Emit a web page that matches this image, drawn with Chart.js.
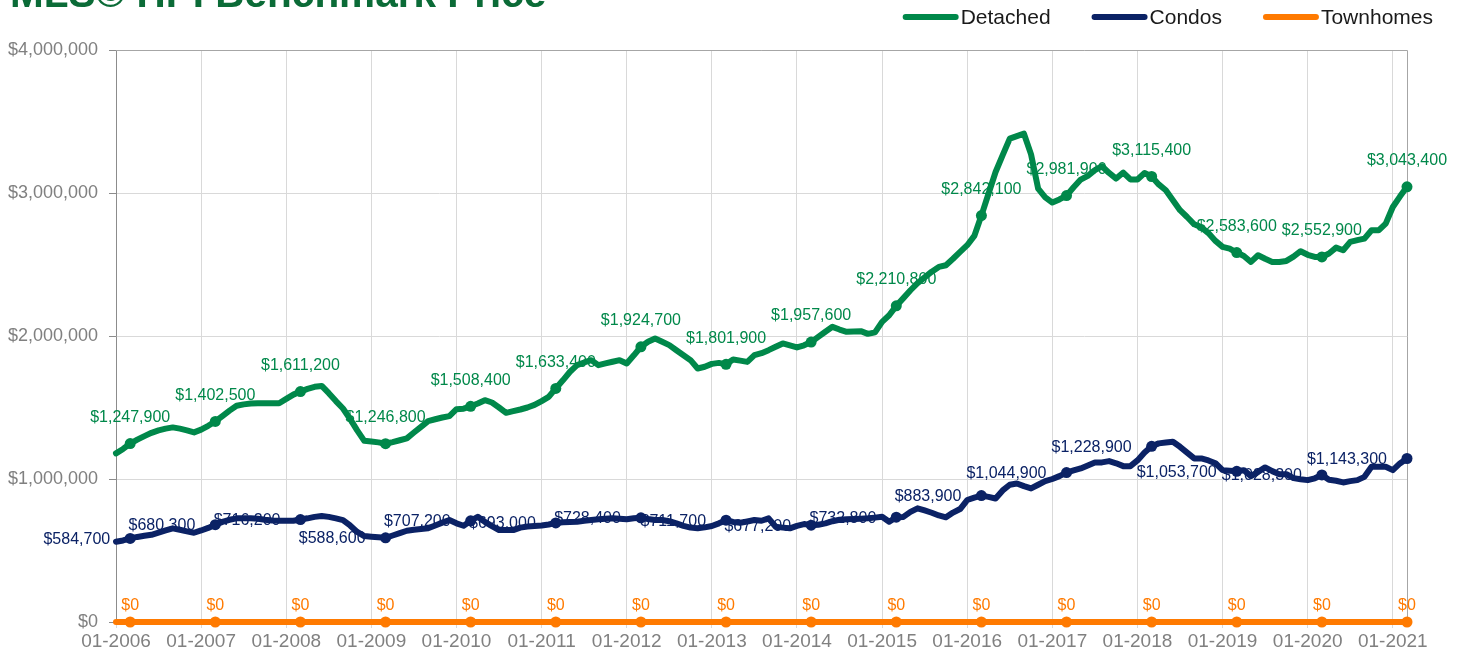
<!DOCTYPE html>
<html>
<head>
<meta charset="utf-8">
<title>MLS HPI Benchmark Price</title>
<script src="https://cdn.jsdelivr.net/npm/chart.js@4.4.1/dist/chart.umd.min.js"></script>
<style>
  html, body { margin: 0; padding: 0; background: #fff; overflow: hidden; }
  #wrap { position: relative; width: 1464px; height: 658px; }
  #title {
    position: absolute; left: 10px; top: -27px; margin: 0;
    font: bold 40.5px "Liberation Sans", Arial, sans-serif; line-height: 1;
    color: #0b6b37; white-space: nowrap;
  }
</style>
</head>
<body>
<div id="wrap">
  <canvas id="hpiChart" width="1464" height="658"></canvas>
  <h1 id="title">MLS© HPI Benchmark Price</h1>
</div>
<script>
// monthly benchmark prices, Nov 2005 .. Jan 2021
const detached = [
  1179000,1210000,1247900,1275000,1300000,1323000,1340000,1352000,1361000,1352000,1340000,1326000,
  1345000,1372000,1402500,1440000,1478000,1512000,1522000,1528000,1530000,1530000,1530000,1530000,
  1560000,1590000,1611200,1630000,1645000,1651000,1600000,1545000,1493000,1420000,1340000,1267000,
  1262000,1256000,1246800,1258000,1271000,1284000,1325000,1365000,1405000,1418000,1430000,1440000,
  1488000,1492000,1508400,1528000,1551000,1535000,1500000,1463000,1475000,1486000,1500000,1518000,
  1545000,1574000,1633400,1690000,1750000,1796000,1815000,1831000,1796000,1808000,1820000,1831000,
  1808000,1865000,1924700,1960000,1983000,1960000,1936000,1900000,1865000,1831000,1773000,1785000,
  1805000,1812000,1801900,1836000,1828000,1819000,1866000,1880000,1901000,1925000,1948000,1934000,
  1920000,1935000,1957600,1994000,2030000,2064000,2045000,2029000,2032000,2034000,2015000,2025000,
  2099000,2145000,2210800,2265000,2320000,2370000,2410000,2450000,2483000,2495000,2540000,2588000,
  2635000,2700000,2842100,2995000,3147000,3265000,3380000,3398000,3415000,3270000,3030000,2970000,
  2933000,2955000,2981900,3040000,3094000,3120000,3160000,3187000,3140000,3101000,3143000,3095000,
  3094000,3140000,3115400,3060000,3019000,2950000,2880000,2832000,2781000,2760000,2720000,2665000,
  2623000,2611000,2583600,2560000,2518000,2565000,2540000,2518000,2518000,2525000,2555000,2593000,
  2568000,2553000,2552900,2577000,2618000,2600000,2658000,2670000,2681000,2739000,2739000,2786000,
  2902000,2975000,3043400
];

const condos = [
  561000,570000,584700,595000,603000,610000,625000,640000,655000,645000,634000,624000,
  640000,658000,680300,700000,715000,725000,725000,725000,722000,715000,710000,708000,
  708000,708000,716200,725000,735000,741000,735000,725000,713000,675000,630000,601000,
  596000,592000,588600,605000,622000,638000,645000,650000,655000,675000,695000,713000,
  690000,673000,707200,736000,700000,670000,643000,643000,643000,660000,668000,671000,
  675000,682000,693000,697000,700000,701000,708000,713000,718000,722000,725000,722000,
  718000,725000,728400,720000,713000,713000,705000,690000,672000,660000,655000,662000,
  671000,690000,711700,700000,694000,703000,713000,708000,725000,666000,660000,655000,
  672000,685000,677200,680000,690000,705000,715000,718000,720000,722000,725000,730000,
  736000,701000,732800,735000,770000,795000,780000,764000,745000,732000,765000,790000,
  853000,870000,883900,875000,864000,920000,960000,969000,950000,934000,960000,985000,
  1000000,1020000,1044900,1060000,1074000,1095000,1116000,1116000,1125000,1110000,1090000,1090000,
  1130000,1185000,1228900,1249000,1255000,1260000,1225000,1185000,1144000,1144000,1130000,1110000,
  1062000,1058000,1053700,1062000,1020000,1050000,1081000,1055000,1034000,1034000,1006000,998000,
  992000,1005000,1028300,995000,988000,976000,985000,992000,1015000,1085000,1085000,1085000,
  1062000,1109000,1143300
];

const townhomes = [
  0,0,0,0,0,0,0,0,0,0,0,0, 0,0,0,0,0,0,0,0,0,0,0,0, 0,0,0,0,0,0,0,0,0,0,0,0,
  0,0,0,0,0,0,0,0,0,0,0,0, 0,0,0,0,0,0,0,0,0,0,0,0, 0,0,0,0,0,0,0,0,0,0,0,0,
  0,0,0,0,0,0,0,0,0,0,0,0, 0,0,0,0,0,0,0,0,0,0,0,0, 0,0,0,0,0,0,0,0,0,0,0,0,
  0,0,0,0,0,0,0,0,0,0,0,0, 0,0,0,0,0,0,0,0,0,0,0,0, 0,0,0,0,0,0,0,0,0,0,0,0,
  0,0,0,0,0,0,0,0,0,0,0,0, 0,0,0,0,0,0,0,0,0,0,0,0, 0,0,0,0,0,0,0,0,0,0,0,0,
  0,0,0
];

const yearTicks = ['01-2006','01-2007','01-2008','01-2009','01-2010','01-2011','01-2012','01-2013',
                   '01-2014','01-2015','01-2016','01-2017','01-2018','01-2019','01-2020','01-2021'];

// month categories
const months = [];
for (let i = 0; i < detached.length; i++) {
    const m = (10 + i) % 12 + 1;
    const y = 2005 + Math.floor((10 + i) / 12);
    months.push(String(m).padStart(2, '0') + '-' + y);
}

const FONT = '"Liberation Sans", Arial, sans-serif';
const fmt = v => '$' + v.toLocaleString('en-US');
const isJan = i => i % 12 === 2;

// value labels on the January points, drawn under the lines
const valueLabels = {
    id: 'valueLabels',
    beforeDatasetsDraw(chart) {
        const ctx = chart.ctx;
        ctx.save();
        ctx.font = '16px ' + FONT;
        chart.data.datasets.forEach((ds, di) => {
            const meta = chart.getDatasetMeta(di);
            ctx.fillStyle = ds.borderColor;
            meta.data.forEach((pt, i) => {
                if (!isJan(i)) return;
                const txt = fmt(ds.data[i]);
                ctx.textBaseline = 'middle';
                if (ds.labelPos === 'left') {
                    ctx.textAlign = 'right';
                    ctx.fillText(txt, pt.x - 20, pt.y + 1);
                } else {
                    ctx.textAlign = 'center';
                    ctx.fillText(txt, pt.x, pt.y - ds.labelGap);
                }
            });
        });
        ctx.restore();
    }
};

// plot frame on top and right
const frame = {
    id: 'frame',
    beforeDatasetsDraw(chart) {
        const {ctx, chartArea: a} = chart;
        ctx.save();
        ctx.strokeStyle = '#a6a6a6';
        ctx.lineWidth = 1;
        ctx.beginPath();
        ctx.moveTo(a.left, a.top + 0.5);
        ctx.lineTo(a.right + 0.5, a.top + 0.5);
        ctx.lineTo(a.right + 0.5, a.bottom);
        ctx.stroke();
        ctx.restore();
    }
};

// legend with line samples, top right
const lineLegend = {
    id: 'lineLegend',
    afterDraw(chart) {
        const ctx = chart.ctx;
        ctx.save();
        ctx.font = '21px ' + FONT;
        const lineLen = 50, gapText = 5, gapItem = 44, y = 17;
        const items = chart.data.datasets.map(ds => ({
            text: ds.label, color: ds.borderColor, w: ctx.measureText(ds.label).width
        }));
        const total = items.reduce((s, it) => s + lineLen + gapText + it.w, 0) + gapItem * (items.length - 1);
        let x = 1433 - total;
        items.forEach(it => {
            ctx.strokeStyle = it.color;
            ctx.lineWidth = 6;
            ctx.lineCap = 'round';
            ctx.beginPath();
            ctx.moveTo(x, y);
            ctx.lineTo(x + lineLen, y);
            ctx.stroke();
            ctx.fillStyle = '#1a1a1a';
            ctx.textAlign = 'left';
            ctx.textBaseline = 'middle';
            ctx.fillText(it.text, x + lineLen + gapText, y + 1);
            x += lineLen + gapText + it.w + gapItem;
        });
        ctx.restore();
    }
};

const mkSet = (label, data, color, labelPos, labelGap) => ({
    label, data,
    borderColor: color,
    backgroundColor: color,
    borderWidth: 6,
    borderJoinStyle: 'round',
    borderCapStyle: 'round',
    tension: 0,
    clip: false,
    pointRadius: c => isJan(c.dataIndex) ? 5.5 : 0,
    pointBackgroundColor: color,
    pointBorderWidth: 0,
    labelPos, labelGap
});

new Chart(document.getElementById('hpiChart'), {
    type: 'line',
    data: {
        labels: months,
        datasets: [
            mkSet('Detached', detached, '#00884a', 'above', 26),
            mkSet('Condos', condos, '#0b2265', 'left', 0),
            mkSet('Townhomes', townhomes, '#ff7a00', 'above', 16)
        ]
    },
    options: {
        responsive: false,
        animation: false,
        events: [],
        layout: { padding: { top: 50, right: 57, left: 0, bottom: 0 } },
        plugins: { legend: { display: false }, tooltip: { enabled: false }, title: { display: false } },
        scales: {
            x: {
                type: 'category',
                offset: false,
                afterFit: axis => { axis.height = 36; },
                grid: { color: '#d9d9d9', tickColor: '#d9d9d9', tickLength: 6 },
                border: { display: false },
                ticks: {
                    autoSkip: false, maxRotation: 0, minRotation: 0, padding: 2,
                    color: '#808080', font: { family: FONT, size: 19 },
                    callback: (v, i) => i % 12 === 0 ? yearTicks[i / 12] : null
                }
            },
            y: {
                min: 0, max: 4000000,
                afterFit: axis => { axis.width = 116; },
                grid: { color: '#d9d9d9', tickColor: '#8c8c8c', tickLength: 7 },
                border: { color: '#8c8c8c', width: 1 },
                ticks: {
                    stepSize: 1000000, padding: 11,
                    color: '#808080', font: { family: FONT, size: 18 },
                    callback: v => fmt(v)
                }
            }
        }
    },
    plugins: [frame, valueLabels, lineLegend]
});
</script>
</body>
</html>
